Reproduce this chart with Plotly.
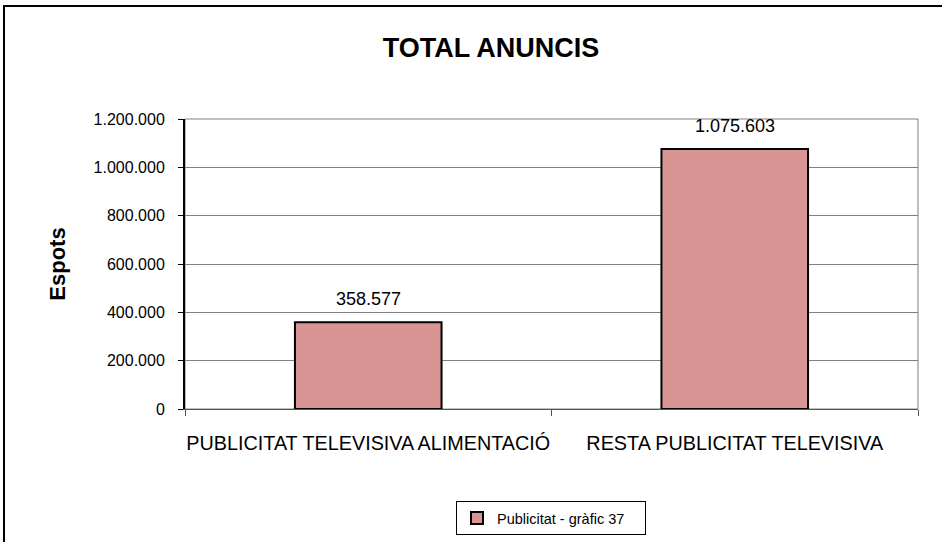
import plotly.graph_objects as go

categories = ["PUBLICITAT TELEVISIVA ALIMENTACIÓ", "RESTA PUBLICITAT TELEVISIVA"]
values = [358577, 1075603]
series_name = "Publicitat - gràfic 37"
y_ticks = [0, 200000, 400000, 600000, 800000, 1000000, 1200000]

FONT = "Liberation Sans, Arial, sans-serif"
W, H = 942, 542
# plot area in page pixels
L, R, T, B = 185, 918, 119, 409


def px_x(p):
    return (p - L) / (R - L)


def px_y(p):
    return (B - p) / (B - T)


fig = go.Figure()
fig.add_trace(go.Bar(
    x=categories, y=values, name=series_name, width=0.4,
    marker=dict(color="#D99594", line=dict(color="#000000", width=2)),
    showlegend=True,
))

for c, v in zip(categories, values):
    fig.add_annotation(
        x=c, y=v, text=f"{v:,}".replace(",", "."), showarrow=False,
        yanchor="bottom", yshift=11, font=dict(family=FONT, size=18, color="#000"),
    )

fig.update_layout(
    width=W, height=H,
    margin=dict(l=L, r=W - R, t=T, b=H - B, pad=0, autoexpand=False),
    paper_bgcolor="white", plot_bgcolor="white",
    separators=",.",
    font=dict(family=FONT, color="#000"),
    title=dict(text="<b>TOTAL ANUNCIS</b>", x=491 / W, xanchor="center",
               y=1 - 48 / H, yanchor="middle",
               font=dict(family=FONT, size=27, color="#000")),
    xaxis=dict(type="category", tickson="boundaries", ticks="outside", ticklen=6,
               tickcolor="#555", showline=True, linecolor="#555", linewidth=1,
               showgrid=False, ticklabelstandoff=16, tickangle=0,
               tickfont=dict(family=FONT, size=19.8, color="#000"),
               range=[-0.5, 1.5]),
    yaxis=dict(range=[0, 1200000], tickvals=y_ticks, tickformat=",d",
               ticks="outside", ticklen=5, tickcolor="#000",
               showline=True, linecolor="#000", linewidth=2,
               showgrid=True, gridcolor="#808080", gridwidth=1, zeroline=False,
               ticklabelstandoff=10,
               tickfont=dict(family=FONT, size=16, color="#000"),
               title=dict(text="<b>Espots</b>", standoff=22,
                          font=dict(family=FONT, size=22, color="#000"))),
    legend=dict(x=px_x(551), xanchor="center", y=px_y(501), yanchor="top",
                orientation="h", entrywidth=143,
                bordercolor="#000", borderwidth=1, bgcolor="white",
                font=dict(family=FONT, size=14.5, color="#000")),
    bargap=0.6,
)

# plot-area border (top / right grey)
fig.add_shape(type="rect", xref="paper", yref="paper", x0=0, x1=1, y0=0, y1=1,
              line=dict(color="#808080", width=1), layer="below")
# outer chart-area border
fig.add_shape(type="rect", xref="paper", yref="paper",
              x0=px_x(4), x1=px_x(960), y0=px_y(570), y1=px_y(6),
              line=dict(color="#000", width=2))

fig.write_html("out.html", config={"displayModeBar": False},
               post_script="document.body.style.margin='0';")
